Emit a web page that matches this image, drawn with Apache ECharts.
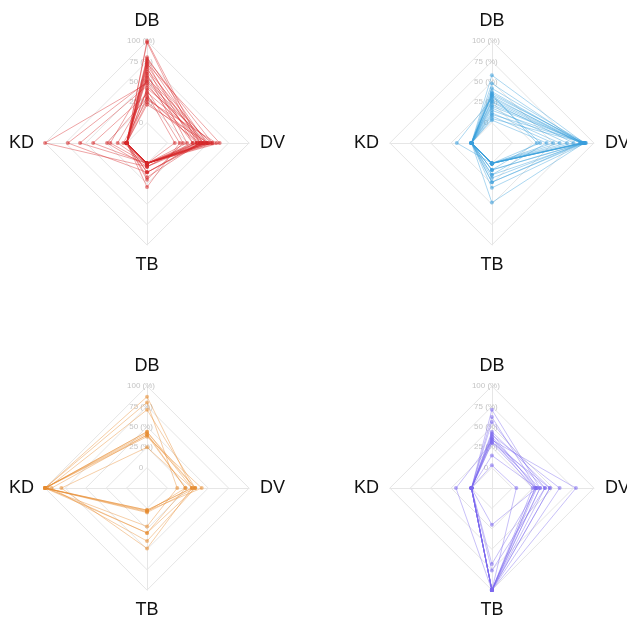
<!DOCTYPE html>
<html>
<head>
<meta charset="utf-8">
<script src="https://cdn.jsdelivr.net/npm/echarts@6/dist/echarts.min.js"></script>
<style>
  html, body { margin: 0; padding: 0; background: #fff; }
  #chart { width: 627px; height: 619px; }
</style>
</head>
<body>
<div id="chart"></div>
<script>
// Indicator names, counter-clockwise from the top
const indicatorNames = ['DB', 'KD', 'TB', 'DV'];
const tickValues = [0, 25, 50, 75, 100];

// Each row: [DB, DV, TB, KD] in percent
const groupRed = [
  [100, 40, 0, 0], [98, 36, 4, 0], [80, 48, 0, 0], [78, 55, 0, 0],
  [76, 44, 11, 0], [74, 31, 0, 0], [72, 64, 0, 0], [70, 40, 17, 0],
  [68, 24, 0, 0], [65, 50, 0, 0], [62, 44, 0, 0], [60, 19, 20, 0],
  [57, 36, 0, 0], [55, 53, 0, 0], [52, 48, 0, 20], [50, 40, 11, 72],
  [48, 31, 4, 100], [45, 44, 0, 57], [42, 55, 0, 0], [40, 15, 29, 0],
  [37, 48, 0, 11], [35, 9, 0, 41], [32, 36, 0, 0], [30, 44, 4, 24],
  [28, 60, 0, 4], [25, 40, 11, 0], [22, 50, 0, 0]
];
const groupBlue = [
  [58, 88, 0, 0], [48, 85, 0, 0], [42, 89, 8, 0], [36, 87, 0, 0],
  [34, 90, 14, 0], [32, 83, 0, 0], [30, 88, 0, 18], [28, 86, 18, 0],
  [25, 75, 0, 0], [22, 89, 23, 0], [18, 67, 0, 0], [15, 87, 8, 0],
  [12, 58, 0, 0], [10, 90, 30, 0], [8, 50, 0, 0], [5, 88, 48, 0],
  [3, 42, 14, 0], [33, 34, 0, 0], [35, 30, 8, 0], [26, 84, 0, 0],
  [20, 88, 0, 0], [38, 86, 23, 0]
];
const groupOrange = [
  [87, 30, 2, 100], [80, 12, 22, 100], [71, 34, 30, 97], [44, 30, 2, 100],
  [42, 22, 4, 100], [40, 34, 40, 92], [38, 42, 3, 100], [25, 30, 49, 80],
  [44, 34, 5, 100], [40, 22, 30, 100]
];
const groupPurple = [
  [71, 34, 100, 0], [62, 30, 100, 0], [56, 40, 76, 0], [44, 46, 100, 0],
  [42, 28, 100, 0], [40, 58, 100, 0], [38, 30, 68, 0], [36, 25, 100, 0],
  [34, 78, 100, 0], [32, 34, 100, 19], [31, 46, 100, 0], [15, 30, 20, 0],
  [3, 5, 100, 0], [35, 40, 100, 0], [30, 28, 100, 0]
];

const groups = [
  { rows: groupRed, color: '#d62728', center: ['23.45%', '23.1%'] },
  { rows: groupBlue, color: '#3a9fdc', center: ['78.45%', '23.1%'] },
  { rows: groupOrange, color: '#e68a2e', center: ['23.45%', '78.85%'] },
  { rows: groupPurple, color: '#7b68ee', center: ['78.45%', '78.85%'] }
];

const gridColor = '#e6e6e6';

function tickLabel(v) {
  if (tickValues.indexOf(v) < 0) return '';
  return v === 0 ? '0' : v + ' (%)';
}

const radars = groups.map(g => ({
  center: g.center,
  radius: 102,
  shape: 'polygon',
  startAngle: 90,
  splitNumber: 5,
  nameGap: 11,
  axisName: { color: '#111', fontSize: 18, fontFamily: 'Liberation Sans, Arial, sans-serif' },
  splitLine: { lineStyle: { color: gridColor, width: 1 } },
  splitArea: { show: false },
  axisLine: { lineStyle: { color: gridColor, width: 1 } },
  axisLabel: { show: false },
  indicator: indicatorNames.map((name, i) => {
    const ind = { name: name, min: -25, max: 100 };
    if (i === 0) {
      ind.axisLabel = {
        show: true,
        color: '#c4c4c4',
        fontSize: 8,
        margin: 6,
        align: 'center',
        fontFamily: 'Liberation Sans, Arial, sans-serif',
        formatter: tickLabel
      };
    }
    return ind;
  })
}));

// Reorder a [DB, DV, TB, KD] row to the indicator order
function toIndicatorOrder(r) {
  return [r[0], r[3], r[2], r[1]];
}

const series = groups.map((g, gi) => ({
  type: 'radar',
  radarIndex: gi,
  symbol: 'circle',
  symbolSize: 4,
  lineStyle: { color: g.color, width: 1, opacity: 0.42 },
  itemStyle: { color: g.color, opacity: 0.55 },
  emphasis: { disabled: true },
  data: g.rows.map(r => ({ value: toIndicatorOrder(r) }))
}));

const chart = echarts.init(document.getElementById('chart'), null, { renderer: 'canvas' });
chart.setOption({
  animation: false,
  backgroundColor: '#fff',
  radar: radars,
  series: series
});
</script>
</body>
</html>
